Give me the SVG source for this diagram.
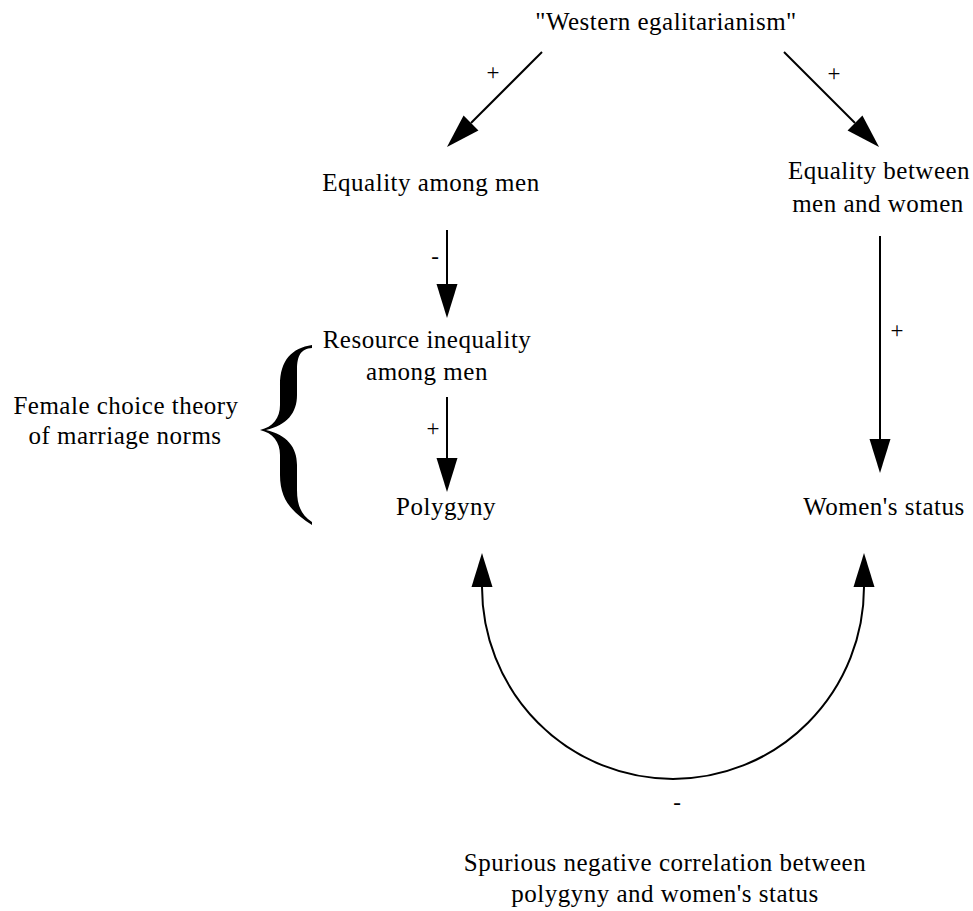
<svg xmlns="http://www.w3.org/2000/svg" width="973" height="911" viewBox="0 0 973 911">
  <style>
    .t { font-family: "Liberation Serif", "Times New Roman", serif; font-size: 25px; letter-spacing: 0.5px; fill: #000; text-anchor: middle; }
    .lbl { font-family: "Liberation Serif", "Times New Roman", serif; font-size: 23px; fill: #000; text-anchor: middle; }
    .c { fill: none; stroke: #000; stroke-width: 2; }
  </style>
  <defs>
    <marker id="ah" markerUnits="userSpaceOnUse" markerWidth="34" markerHeight="21" refX="0" refY="10.5" orient="auto-start-reverse" overflow="visible">
      <path d="M0,0 L34,10.5 L0,21 Z" fill="#000"/>
    </marker>
  </defs>
  <rect width="973" height="911" fill="#fff"/>

  <g id="western">
    <text class="t" x="666" y="30">"Western egalitarianism"</text>
  </g>
  <g id="equality-men">
    <text class="t" x="431" y="191">Equality among men</text>
  </g>
  <g id="equality-sexes">
    <text class="t" x="879" y="179">Equality between</text>
    <text class="t" x="878" y="212">men and women</text>
  </g>
  <g id="resource-inequality">
    <text class="t" x="427" y="348">Resource inequality</text>
    <text class="t" x="427" y="380">among men</text>
  </g>
  <g id="polygyny">
    <text class="t" x="446" y="515">Polygyny</text>
  </g>
  <g id="womens-status">
    <text class="t" x="884" y="515">Women's status</text>
  </g>
  <g id="female-choice">
    <text class="t" x="126" y="414">Female choice theory</text>
    <text class="t" x="125" y="444">of marriage norms</text>
    <path d="M312,345 C292,348 280,360 280,385 L280,405 C280,418 273,427 260,430 C273,433 280,442 280,455 L280,475 C280,500 292,512 312,525 L312,522 C301,515 297,505 297,490 L297,465 C297,447 287,435 266,430 C287,425 297,413 297,395 L297,370 C297,355 301,349 312,348 Z" fill="#000"/>
  </g>
  <g id="spurious">
    <text class="t" x="665" y="871">Spurious negative correlation between</text>
    <text class="t" x="665" y="902">polygyny and women's status</text>
  </g>

  <g id="connectors">
    <line class="c" x1="542" y1="52" x2="471" y2="123" marker-end="url(#ah)"/>
    <line class="c" x1="784" y1="52" x2="855" y2="123" marker-end="url(#ah)"/>
    <line class="c" x1="447" y1="230" x2="447" y2="284" marker-end="url(#ah)"/>
    <line class="c" x1="447" y1="397" x2="447" y2="458" marker-end="url(#ah)"/>
    <line class="c" x1="880" y1="236" x2="880" y2="439" marker-end="url(#ah)"/>
    <path class="c" d="M482,587 A191,192 0 0 0 864,587" marker-start="url(#ah)" marker-end="url(#ah)"/>
    <text class="lbl" x="493" y="80">+</text>
    <text class="lbl" x="834" y="81">+</text>
    <text class="lbl" x="435" y="264">-</text>
    <text class="lbl" x="433" y="436">+</text>
    <text class="lbl" x="897" y="338">+</text>
    <text class="lbl" x="677" y="810">-</text>
  </g>
</svg>
